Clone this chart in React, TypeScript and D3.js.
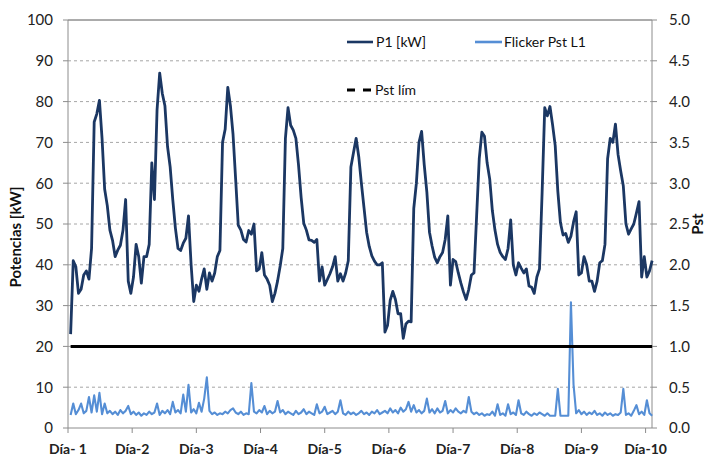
import React from 'react';
import * as d3 from 'd3';

// P1 [kW], one value per sample (~1 h)
const p1Values = [
  23, 41, 39.5, 33, 34, 37.5, 38.5, 36.5, 44, 75,
  77, 80.3, 71, 58.5, 54.5, 48.5, 46, 42, 43.6, 44.8,
  48.5, 56, 36, 33, 37, 45, 42, 35.5, 42, 42,
  45, 65, 56, 78, 87, 82, 79, 69, 64, 56,
  49, 44, 43.5, 45.3, 46.5, 52, 40, 31, 35, 33.5,
  36.5, 39, 34, 38, 36, 38, 42, 43.5, 70, 73.2,
  83.5, 79, 72, 61, 49.7, 48.5, 46.2, 45.6, 48.4, 47.5,
  50, 38.5, 39, 43, 37.5, 36.5, 35, 31, 33, 36,
  39.7, 44, 71, 78.5, 74.2, 73, 71, 64.5, 56.5, 50.2,
  48.5, 46.1, 46, 45.5, 46.2, 36, 39.5, 35, 36.4, 37.8,
  39.5, 42, 36, 37.8, 36, 38, 41, 64, 67.5, 71,
  66.5, 60, 54, 48, 44.5, 42.2, 40.9, 40, 40, 40.5,
  23.5, 25.2, 31.3, 33.5, 31.5, 28, 28, 22, 25.5, 26.2,
  26, 53.8, 60, 70, 72.7, 64.5, 57.8, 48, 44.6, 41.8,
  40.5, 42, 43, 46.2, 52, 35, 41.3, 40.8, 38, 35.5,
  33.3, 31.5, 34, 37.5, 38, 52, 66, 72.5, 71.5, 65,
  61, 53.3, 48.5, 45, 43, 42, 41.3, 44, 51, 40,
  37.5, 40.5, 39.2, 38, 39, 34.8, 34.5, 33, 37, 39,
  57.7, 78.5, 76.5, 78.8, 74.3, 69.2, 58, 50.3, 47.3, 47.7,
  45.5, 47, 50.5, 53, 37.5, 38, 42, 40, 36, 36,
  33.5, 36, 40.5, 41, 45, 66, 71, 70, 74.5, 67,
  63, 59.3, 50, 47.5, 48.8, 50, 52.7, 55.5, 37, 42,
  37, 38.5, 41,
];

// Flicker Pst L1, same samples
const pstValues = [
  0.16, 0.30, 0.17, 0.22, 0.30, 0.18, 0.21, 0.38, 0.19, 0.40,
  0.20, 0.43, 0.17, 0.30, 0.18, 0.21, 0.17, 0.20, 0.16, 0.22,
  0.18, 0.21, 0.27, 0.17, 0.20, 0.16, 0.19, 0.15, 0.18, 0.16,
  0.20, 0.17, 0.19, 0.30, 0.16, 0.21, 0.18, 0.22, 0.17, 0.32,
  0.19, 0.22, 0.18, 0.41, 0.20, 0.53, 0.19, 0.23, 0.18, 0.31,
  0.20, 0.36, 0.62, 0.21, 0.17, 0.19, 0.16, 0.18, 0.17, 0.20,
  0.18, 0.22, 0.24, 0.19, 0.17, 0.20, 0.16, 0.18, 0.17, 0.55,
  0.20, 0.18, 0.22, 0.19, 0.27, 0.17, 0.21, 0.18, 0.20, 0.33,
  0.19, 0.22, 0.17, 0.20, 0.18, 0.16, 0.21, 0.17, 0.19, 0.23,
  0.17, 0.20, 0.18, 0.16, 0.29, 0.18, 0.20, 0.26, 0.17, 0.19,
  0.21, 0.17, 0.20, 0.34, 0.18, 0.16, 0.20, 0.17, 0.19, 0.16,
  0.18, 0.21, 0.17, 0.19, 0.16, 0.20, 0.18, 0.22, 0.17, 0.19,
  0.21, 0.18, 0.24, 0.19, 0.22, 0.18, 0.25, 0.20, 0.23, 0.32,
  0.20, 0.28, 0.19, 0.22, 0.18, 0.21, 0.36, 0.19, 0.23, 0.18,
  0.24, 0.19, 0.21, 0.33, 0.18, 0.22, 0.19, 0.24, 0.20, 0.18,
  0.21, 0.19, 0.38, 0.20, 0.17, 0.19, 0.16, 0.18, 0.15, 0.17,
  0.16, 0.20, 0.15, 0.29, 0.16, 0.18, 0.15, 0.29, 0.17, 0.19,
  0.16, 0.34, 0.18, 0.16, 0.20, 0.17, 0.15, 0.18, 0.16, 0.19,
  0.17, 0.15, 0.18, 0.15, 0.15, 0.15, 0.48, 0.15, 0.15, 0.15,
  0.15, 1.54, 0.53, 0.18, 0.22, 0.17, 0.20, 0.16, 0.19, 0.17,
  0.21, 0.16, 0.18, 0.15, 0.19, 0.16, 0.18, 0.15, 0.17, 0.16,
  0.19, 0.48, 0.16, 0.18, 0.15, 0.21, 0.28, 0.17, 0.20, 0.16,
  0.34, 0.18, 0.15,
];

const pstLimit = 1.0;

const dayLabels = ['Día- 1', 'Día-2', 'Día-3', 'Día-4', 'Día-5', 'Día-6', 'Día-7', 'Día-8', 'Día-9', 'Día-10'];
const leftTicks = [0, 10, 20, 30, 40, 50, 60, 70, 80, 90, 100];
const rightTicks = [0, 0.5, 1, 1.5, 2, 2.5, 3, 3.5, 4, 4.5, 5];

const STEP_DAYS = 1 / 24.5;
const PLOT_DAYS = 9.1;

const W = 712;
const H = 456;
const left = 68;
const right = 652;
const top = 20;
const bottom = 428;

const P1_COLOR = '#1b3763';
const PST_COLOR = '#558ed5';
const FONT = 'Lato, "Open Sans", sans-serif';

export default function App() {
  const x = d3.scaleLinear().domain([0, PLOT_DAYS]).range([left, right]);
  const yL = d3.scaleLinear().domain([0, 100]).range([bottom, top]);
  const yR = d3.scaleLinear().domain([0, 5]).range([bottom, top]);

  const t = (i: number) => (i + 1) * STEP_DAYS;

  const p1Line = d3.line<number>()
    .x((_, i) => x(t(i)))
    .y(d => yL(d));

  const pstLine = d3.line<number>()
    .x((_, i) => x(t(i)))
    .y(d => yR(d));

  const lastT = t(p1Values.length - 1);

  return (
    <svg width={W} height={H} style={{ position: 'absolute', left: 0, top: 0, display: 'block', background: '#fff' }}
      fontFamily={FONT}>
      {/* gridlines */}
      {leftTicks.filter(v => v > 0 && v < 100).map(v => (
        <line key={'g' + v} x1={left} x2={right} y1={yL(v)} y2={yL(v)}
          stroke="#a6a6a6" strokeWidth={1} strokeDasharray="3,3" />
      ))}

      {/* frame */}
      <line x1={left} x2={right} y1={top} y2={top} stroke="#595959" strokeWidth={1} />
      <line x1={left} x2={left} y1={top} y2={bottom} stroke="#8c8c8c" strokeWidth={1} />
      <line x1={right} x2={right} y1={top} y2={bottom} stroke="#8c8c8c" strokeWidth={1} />
      <line x1={left} x2={right} y1={bottom} y2={bottom} stroke="#8c8c8c" strokeWidth={1} />

      {/* left axis */}
      {leftTicks.map(v => (
        <g key={'l' + v}>
          <line x1={left - 5} x2={left} y1={yL(v)} y2={yL(v)} stroke="#8c8c8c" />
          <text x={53} y={yL(v)} dy="0.36em" textAnchor="end" fontSize={15} fill="#222">{v}</text>
        </g>
      ))}

      {/* right axis */}
      {rightTicks.map(v => (
        <g key={'r' + v}>
          <line x1={right} x2={right + 5} y1={yR(v)} y2={yR(v)} stroke="#8c8c8c" />
          <text x={669} y={yR(v)} dy="0.36em" textAnchor="start" fontSize={15} fill="#222">{v.toFixed(1)}</text>
        </g>
      ))}

      {/* x axis */}
      {dayLabels.map((lab, k) => (
        <g key={lab}>
          <line x1={x(k)} x2={x(k)} y1={bottom} y2={bottom + 5} stroke="#8c8c8c" />
          <text x={x(k)} y={454} textAnchor="middle" fontSize={14} fontWeight="bold" fill="#222">{lab}</text>
        </g>
      ))}

      {/* axis titles */}
      <text transform={`translate(21,237) rotate(-90)`} textAnchor="middle" fontSize={15} fontWeight="bold" fill="#111">
        Potencias [kW]
      </text>
      <text transform={`translate(703,224) rotate(-90)`} textAnchor="middle" fontSize={15} fontWeight="bold" fill="#111">
        Pst
      </text>

      {/* series */}
      <path d={pstLine(pstValues) || ''} fill="none" stroke={PST_COLOR} strokeWidth={2.1} strokeLinejoin="round" />
      <line x1={x(t(0))} x2={x(lastT)} y1={yR(pstLimit)} y2={yR(pstLimit)} stroke="#000" strokeWidth={3} />
      <path d={p1Line(p1Values) || ''} fill="none" stroke={P1_COLOR} strokeWidth={2.8} strokeLinejoin="round" />

      {/* legend */}
      <line x1={347} x2={373} y1={42} y2={42} stroke={P1_COLOR} strokeWidth={2.6} />
      <text x={376} y={42} dy="0.35em" fontSize={14} fill="#111">P1 [kW]</text>
      <line x1={475} x2={502} y1={42} y2={42} stroke={PST_COLOR} strokeWidth={2.6} />
      <text x={504} y={42} dy="0.35em" fontSize={14} fill="#111">Flicker Pst L1</text>
      <line x1={347} x2={371} y1={90} y2={90} stroke="#000" strokeWidth={3} strokeDasharray="8,8" />
      <text x={375} y={90} dy="0.35em" fontSize={14} fill="#111">Pst lím</text>
    </svg>
  );
}
